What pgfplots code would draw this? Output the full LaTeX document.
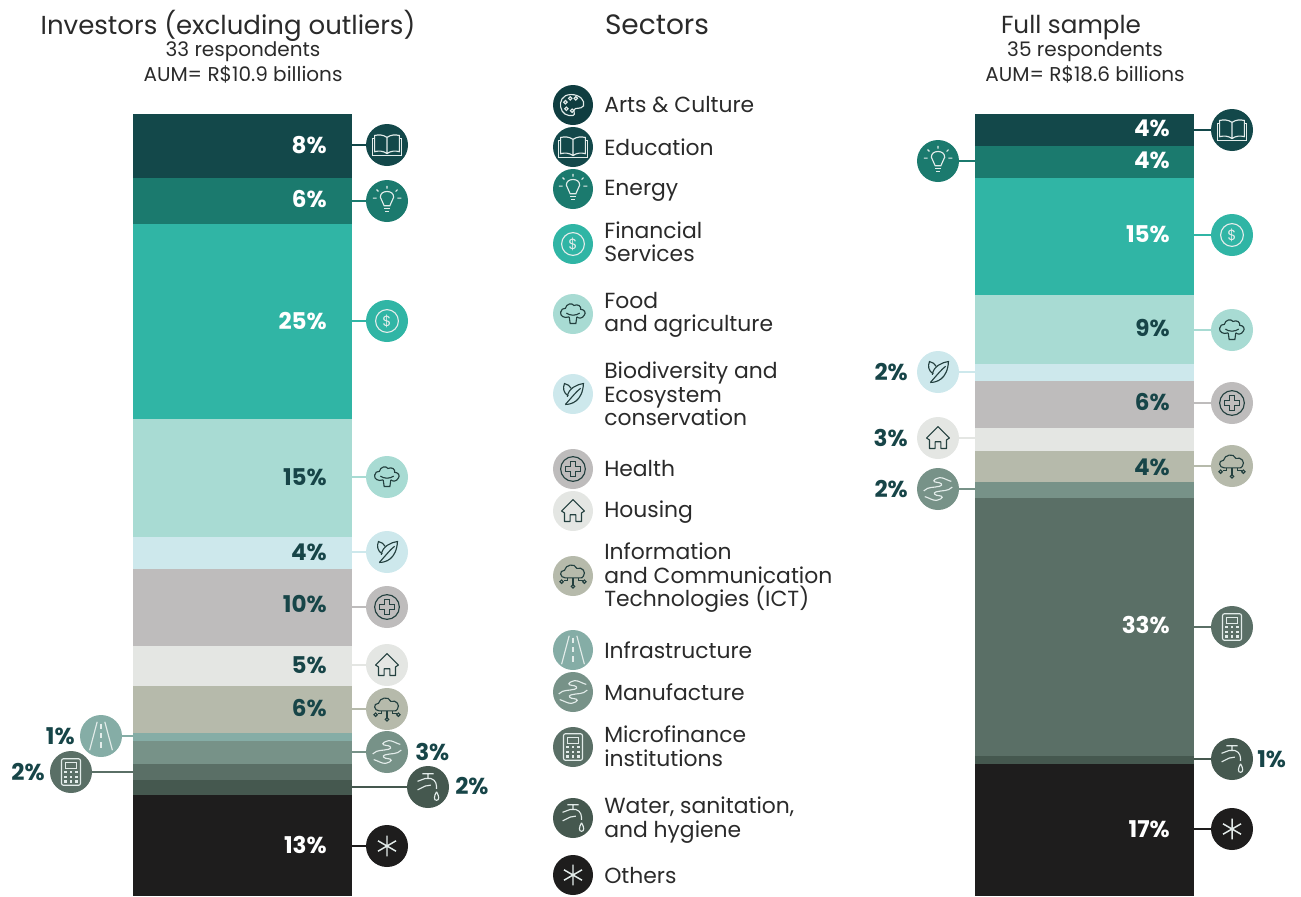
\documentclass[border=0pt]{standalone}
\usepackage{pgfplots}
\pgfplotsset{compat=1.18}
\usepackage{fontspec}
\setmainfont{Poppins}
\definecolor{cArts}{HTML}{0F3D40}
\definecolor{cEdu}{HTML}{13484A}
\definecolor{cEne}{HTML}{1B7A6E}
\definecolor{cFin}{HTML}{30B5A5}
\definecolor{cFood}{HTML}{A8DBD3}
\definecolor{cBio}{HTML}{CDE8EC}
\definecolor{cHea}{HTML}{BEBCBC}
\definecolor{cHou}{HTML}{E4E6E3}
\definecolor{cIct}{HTML}{B6BAAB}
\definecolor{cInf}{HTML}{85ADA6}
\definecolor{cMan}{HTML}{779288}
\definecolor{cMic}{HTML}{5A6F66}
\definecolor{cWat}{HTML}{45584F}
\definecolor{cOth}{HTML}{1E1D1D}
\definecolor{ink}{HTML}{174548}
\definecolor{txt}{HTML}{2A2A2A}
\definecolor{pale}{HTML}{E3ECEA}
\definecolor{dk}{HTML}{23403F}

\pgfplotsset{stackbar/.style={
    ybar stacked, hide axis, scale only axis,
    width=164.25pt, height=586.5pt,
    bar width=164.25pt,
    xmin=-0.5, xmax=0.5, ymin=0, ymax=100,
    y dir=reverse, anchor=north west,
}}
\newcommand{\seg}[2]{\addplot[fill=#1,draw=none] coordinates {(0,#2)};}

% icons, drawn in pixels around (0,0)
\newcommand{\icArts}{\draw (-2,-11) .. controls (-12,-11) and (-14,-3) .. (-13,2) .. controls (-12,9) and (-6,12) .. (0,11) .. controls (3,10) and (0,7) .. (1,5) .. controls (3,2) and (8,5) .. (11,1) .. controls (13,-5) and (7,-11) .. (-2,-11);
  \foreach \a/\b in {-8/-3,-3/-7,3/-7,-7/4,-1/6} \draw (\a,\b) circle (1.8);}
\newcommand{\icBook}{\draw (0,-8) .. controls (-4,-11) and (-9,-11) .. (-13,-10) -- (-13,7) .. controls (-9,6) and (-4,6) .. (0,9) .. controls (4,6) and (9,6) .. (13,7) -- (13,-10) .. controls (9,-11) and (4,-11) .. (0,-8) -- (0,9);
  \draw (-13,-7) -- (-15,-7) -- (-15,11) -- (15,11) -- (15,-7) -- (13,-7);}
\newcommand{\icBulb}{\draw (-3,5) .. controls (-3,1) and (-7,0) .. (-7,-4) .. controls (-7,-8) and (-4,-10) .. (0,-10) .. controls (4,-10) and (7,-8) .. (7,-4) .. controls (7,0) and (3,1) .. (3,5) -- cycle;
  \draw (-3,8) -- (3,8) (-2,11) -- (2,11);
  \draw (0,-13) -- (0,-16) (-9,-10) -- (-11,-12) (9,-10) -- (11,-12) (-11,-3) -- (-15,-3) (11,-3) -- (15,-3);}
\newcommand{\icDollar}{\draw (0,0) circle (12); \node[font=\fontsize{11}{11}\selectfont,inner sep=0pt] at (0,0) {\$};}
\newcommand{\icFood}{\draw (-4,3) .. controls (-9,5) and (-14,2) .. (-13,-2) .. controls (-13,-5) and (-10,-6) .. (-8,-6) .. controls (-7,-11) and (-1,-12) .. (1,-9) .. controls (5,-11) and (9,-8) .. (8,-5) .. controls (12,-5) and (14,-1) .. (12,1) .. controls (10,5) and (6,5) .. (4,3);
  \draw (-7,-1) .. controls (-3,2) and (3,2) .. (7,-1);
  \draw (-4,3) -- (-3,10) -- (3,10) -- (4,3);}
\newcommand{\icLeaf}{\draw (-8,11) .. controls (-1,3) and (4,-3) .. (8,-6); \draw (-8,11) .. controls (-2,11) and (10,8) .. (11,-11) .. controls (4,-10) and (-5,-6) .. (-6,3);
  \draw (-5,2) .. controls (-10,-1) and (-11,-6) .. (-9,-11) .. controls (-6,-10) and (-3,-9) .. (-2,-6);}
\newcommand{\icHealth}{\draw (0,0) circle (13); \draw (-3,-8) -- (3,-8) -- (3,-3) -- (8,-3) -- (8,3) -- (3,3) -- (3,8) -- (-3,8) -- (-3,3) -- (-8,3) -- (-8,-3) -- (-3,-3) -- cycle;}
\newcommand{\icHouse}{\draw[line join=round] (-12,0) -- (0,-12) -- (12,0) -- (9,2) -- (9,11) -- (3,11) -- (3,4) -- (-3,4) -- (-3,11) -- (-9,11) -- (-9,2) -- cycle;}
\newcommand{\icCloud}{\draw (-8,2) .. controls (-14,2) and (-15,-6) .. (-9,-6) .. controls (-8,-12) and (2,-14) .. (4,-8) .. controls (10,-10) and (14,-4) .. (11,0) .. controls (10,2) and (9,2) .. (8,2) -- cycle;
  \draw (0,2) -- (0,10) (-6,2) -- (-6,5) -- (-10,5) (6,2) -- (6,5) -- (10,5);
  \draw (0,11) circle (1.8) (-12,6) circle (1.8) (12,6) circle (1.8);}
\newcommand{\icRoad}{\draw (-4,-15) -- (-12,15) (4,-15) -- (12,15); \draw[dash pattern=on 4pt off 3pt] (0,-13) -- (0,15);}
\newcommand{\icHands}{\draw (-15,2) .. controls (-10,-3) and (-5,-1) .. (2,-3) .. controls (6,-4) and (3,-7) .. (-1,-7) .. controls (-5,-7) and (-7,-10) .. (2,-12) .. controls (6,-12) and (10,-9) .. (14,-8);
  \draw (15,-2) .. controls (10,3) and (5,1) .. (-2,3) .. controls (-6,4) and (-3,7) .. (1,7) .. controls (5,7) and (7,10) .. (-2,12) .. controls (-6,12) and (-10,9) .. (-14,8);}
\newcommand{\icCalc}{\draw[rounded corners=1.5pt] (-10,-14) rectangle (10,14); \draw (-6,-10) rectangle (6,-4);
  \foreach \a in {-6,0,6} \foreach \b in {0,5,10} \fill[draw=none] (\a-1.5,\b-1.2) rectangle (\a+1.5,\b+1.2);}
\newcommand{\icTap}{\draw (-6,-14) -- (6,-14) (0,-14) -- (0,-9) (-11,-6) -- (-3,-9) -- (3,-9) .. controls (9,-7) and (9,-2) .. (9,2) (-11,3) -- (-3,-1) -- (3,-2);
  \draw (9,5) .. controls (6,10) and (6,14) .. (9,14) .. controls (12,14) and (12,10) .. (9,5);}
\newcommand{\icStar}{\draw[line width=1.1pt] (0,-11) -- (0,11) (-9.5,-5.5) -- (9.5,5.5) (-9.5,5.5) -- (9.5,-5.5);}

% \icon{x}{y}{radius}{fill}{stroke}{drawing}
\newcommand{\icon}[6]{\fill[#4] (#1,#2) circle (#3);
  \begin{scope}[shift={(#1,#2)},draw=#5,fill=#5,text=#5,line width=0.85pt,scale=0.95]#6\end{scope}}
% \link{x1}{x2}{y}{colour}
\newcommand{\link}[4]{\draw[#4,line width=1.9pt] (#1,#3) -- (#2,#3);}
\newcommand{\lab}[5]{\node[anchor=#1,inner sep=0pt,text=#4,font=\fontsize{17.3}{17.3}\selectfont\bfseries] at (#2,#3) {#5\%};}
\newcommand{\leg}[2]{\node[anchor=west,inner sep=0pt,align=left,text=txt,font=\fontsize{16.4}{17.6}\selectfont] at (604,#1) {#2};}
\newcommand{\ttl}[4]{\node[inner sep=0pt,text=txt,font=\fontsize{#4}{#4}\selectfont] at (#1,#2) {#3};}
\newcommand{\sub}[3]{\node[inner sep=0pt,text=txt,font=\fontsize{15}{15}\selectfont] at (#1,#2) {#3};}

\begin{document}
\begin{tikzpicture}

\begin{axis}[stackbar, at={(99.75pt,-85.5pt)}]
\seg{cEdu}{8.18}
\seg{cEne}{5.88}
\seg{cFin}{24.94}
\seg{cFood}{15.09}
\seg{cBio}{4.09}
\seg{cHea}{9.85}
\seg{cHou}{5.12}
\seg{cIct}{6.01}
\seg{cInf}{1.02}
\seg{cMan}{2.94}
\seg{cMic}{2.05}
\seg{cWat}{1.92}
\seg{cOth}{12.92}
\end{axis}

\begin{axis}[stackbar, at={(731.25pt,-85.5pt)}]
\seg{cEdu}{4.09}
\seg{cEne}{4.09}
\seg{cFin}{14.96}
\seg{cFood}{8.82}
\seg{cBio}{2.17}
\seg{cHea}{6.01}
\seg{cHou}{2.94}
\seg{cIct}{3.96}
\seg{cMan}{2.05}
\seg{cMic}{32.99}
\seg{cWat}{1.02}
\seg{cOth}{16.88}
\end{axis}

\begin{scope}[x=0.75pt,y=-0.75pt]
\path[use as bounding box] (0,0) rectangle (1301,896);

% titles
\ttl{228}{26}{Investors (excluding outliers)}{19.5}
\sub{243}{52}{33 respondents}
\sub{243}{74}{AUM= R\$10.9 billions}
\ttl{657}{25}{Sectors}{21}
\ttl{1071}{28}{Full sample}{18.5}
\sub{1085}{52}{35 respondents}
\sub{1085}{74}{AUM= R\$18.6 billions}

% left chart callouts
\link{352}{380}{145}{cEdu}\icon{387}{145}{21}{cEdu}{pale}{\icBook}
\link{352}{380}{201}{cEne}\icon{387}{201}{21}{cEne}{pale}{\icBulb}
\link{352}{380}{321}{cFin}\icon{387}{321}{21}{cFin}{pale}{\icDollar}
\link{352}{380}{477}{cFood}\icon{387}{477}{21}{cFood}{dk}{\icFood}
\link{352}{380}{552}{cBio}\icon{387}{552}{21}{cBio}{dk}{\icLeaf}
\link{352}{380}{607}{cHea}\icon{387}{607}{21}{cHea}{dk}{\icHealth}
\link{352}{380}{665}{cHou}\icon{387}{665}{21}{cHou}{dk}{\icHouse}
\link{352}{380}{709}{cIct}\icon{387}{709}{21}{cIct}{dk}{\icCloud}
\link{352}{380}{752}{cMan}\icon{387}{752}{21}{cMan}{pale}{\icHands}
\link{352}{420}{787}{cWat}\icon{428}{787}{21}{cWat}{pale}{\icTap}
\link{352}{380}{846}{cOth}\icon{387}{846}{21}{cOth}{pale}{\icStar}
\link{110}{133}{736}{cInf}\icon{101}{736}{21}{cInf}{pale}{\icRoad}
\link{80}{133}{772}{cMic}\icon{71}{772}{21}{cMic}{pale}{\icCalc}

\lab{east}{327}{145}{white}{8}
\lab{east}{327}{199}{white}{6}
\lab{east}{327}{321}{white}{25}
\lab{east}{327}{477}{ink}{15}
\lab{east}{327}{552}{ink}{4}
\lab{east}{327}{604}{ink}{10}
\lab{east}{327}{665}{ink}{5}
\lab{east}{327}{708}{ink}{6}
\lab{east}{327}{845}{white}{13}
\lab{east}{75}{736}{ink}{1}
\lab{east}{45}{772}{ink}{2}
\lab{west}{415}{752}{ink}{3}
\lab{west}{455}{786}{ink}{2}

% right chart callouts
\link{1194}{1225}{130}{cEdu}\icon{1232}{130}{21}{cEdu}{pale}{\icBook}
\link{945}{975}{161}{cEne}\icon{938}{161}{21}{cEne}{pale}{\icBulb}
\link{1194}{1225}{235}{cFin}\icon{1232}{235}{21}{cFin}{pale}{\icDollar}
\link{1194}{1225}{330}{cFood}\icon{1232}{330}{21}{cFood}{dk}{\icFood}
\link{945}{975}{372}{cBio}\icon{938}{372}{21}{cBio}{dk}{\icLeaf}
\link{1194}{1225}{403}{cHea}\icon{1232}{403}{21}{cHea}{dk}{\icHealth}
\link{945}{975}{438}{cHou}\icon{938}{438}{21}{cHou}{dk}{\icHouse}
\link{1194}{1225}{466}{cIct}\icon{1232}{466}{21}{cIct}{dk}{\icCloud}
\link{945}{975}{489}{cMan}\icon{938}{489}{21}{cMan}{pale}{\icHands}
\link{1194}{1225}{627}{cMic}\icon{1232}{627}{21}{cMic}{pale}{\icCalc}
\link{1194}{1225}{759}{cWat}\icon{1232}{759}{21}{cWat}{pale}{\icTap}
\link{1194}{1225}{829}{cOth}\icon{1232}{829}{21}{cOth}{pale}{\icStar}

\lab{east}{1170}{128}{white}{4}
\lab{east}{1170}{160}{white}{4}
\lab{east}{1170}{234}{white}{15}
\lab{east}{1170}{328}{ink}{9}
\lab{east}{1170}{402}{ink}{6}
\lab{east}{1170}{467}{ink}{4}
\lab{east}{1170}{625}{white}{33}
\lab{east}{1170}{829}{white}{17}
\lab{east}{908}{372}{ink}{2}
\lab{east}{908}{438}{ink}{3}
\lab{east}{908}{489}{ink}{2}
\lab{west}{1257}{759}{ink}{1}

% sector legend
\icon{573}{105}{20}{cArts}{pale}{\icArts}
\leg{105}{Arts \& Culture}
\icon{573}{147}{20}{cEdu}{pale}{\icBook}
\leg{147}{Education}
\icon{573}{189}{20}{cEne}{pale}{\icBulb}
\leg{191}{Energy}
\icon{573}{244}{20}{cFin}{pale}{\icDollar}
\leg{242}{Financial\\Services}
\icon{573}{314}{20}{cFood}{dk}{\icFood}
\leg{315}{Food\\and agriculture}
\icon{573}{394}{20}{cBio}{dk}{\icLeaf}
\leg{394}{Biodiversity and\\Ecosystem\\conservation}
\icon{573}{469}{20}{cHea}{dk}{\icHealth}
\leg{468}{Health}
\icon{573}{511}{20}{cHou}{dk}{\icHouse}
\leg{512}{Housing}
\icon{573}{576}{20}{cIct}{dk}{\icCloud}
\leg{578}{Information\\and Communication\\Technologies (ICT)}
\icon{573}{650}{20}{cInf}{pale}{\icRoad}
\leg{650}{Infrastructure}
\icon{573}{692}{20}{cMan}{pale}{\icHands}
\leg{692}{Manufacture}
\icon{573}{747}{20}{cMic}{pale}{\icCalc}
\leg{746}{Microfinance\\institutions}
\icon{573}{818}{20}{cWat}{pale}{\icTap}
\leg{820}{Water, sanitation,\\and hygiene}
\icon{573}{875}{20}{cOth}{pale}{\icStar}
\leg{875}{Others}
\end{scope}
\end{tikzpicture}
\end{document}
